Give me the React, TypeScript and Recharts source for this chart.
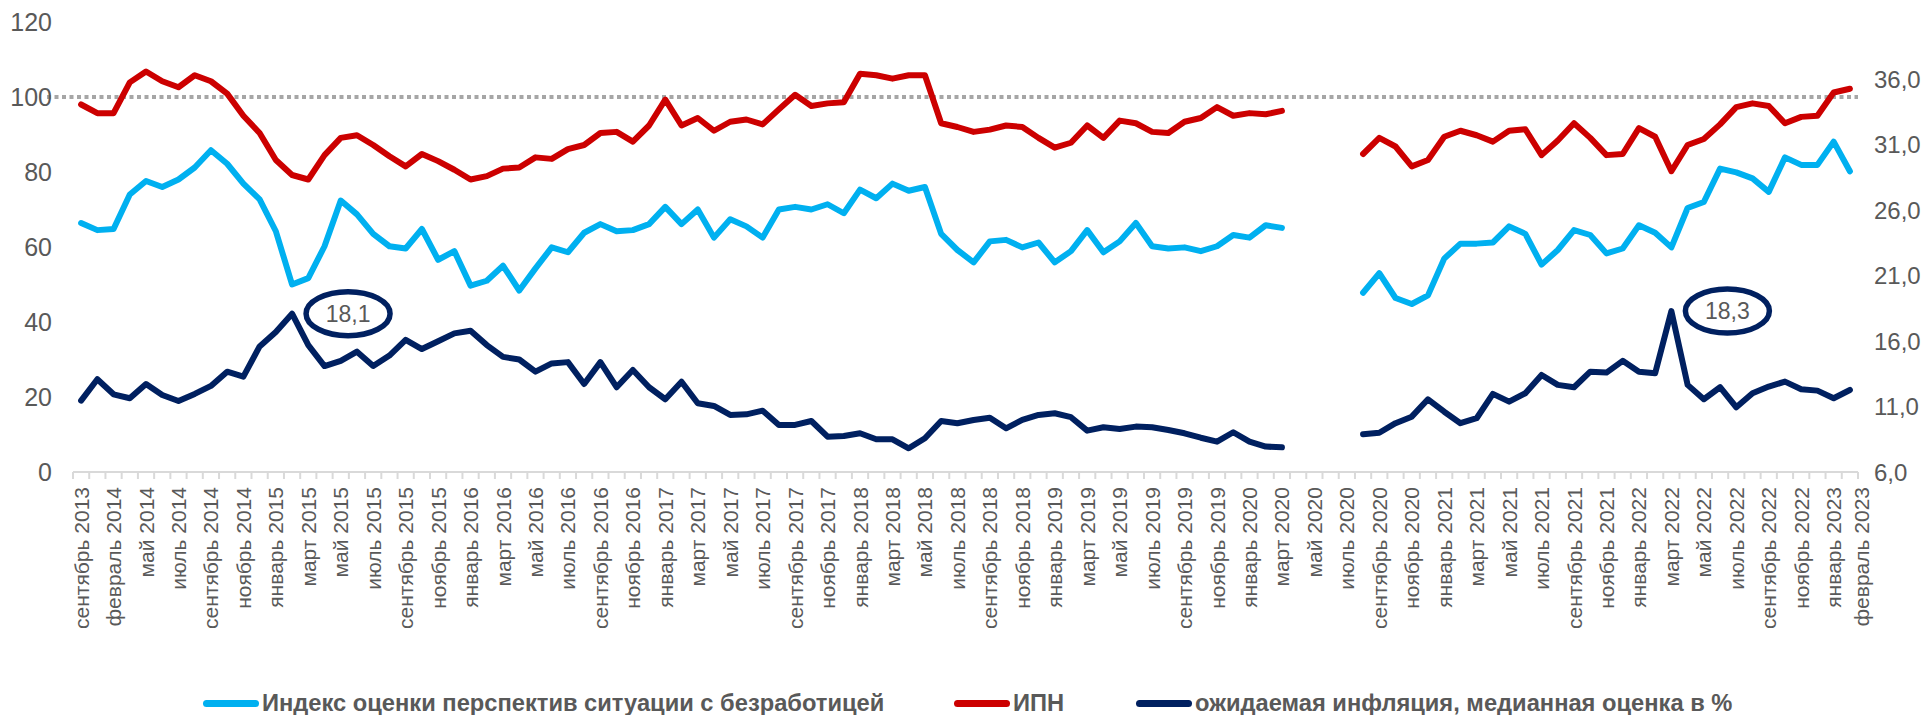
import React from 'react'
import {
  ComposedChart,
  Line,
  XAxis,
  YAxis,
  ReferenceLine,
  ReferenceDot,
  Legend,
} from 'recharts'

const FONT = "'Liberation Sans Narrow', 'Arial Narrow', 'Liberation Sans', sans-serif"

const MONTHS = ['январь', 'февраль', 'март', 'апрель', 'май', 'июнь', 'июль', 'август', 'сентябрь', 'октябрь', 'ноябрь', 'декабрь']

// early survey waves were not monthly
const firstWaves = ['сентябрь 2013', 'декабрь 2013', 'февраль 2014', 'апрель 2014']

// monthly from May 2014 to February 2023
const monthly: string[] = []
for (let y = 2014, m = 4; y < 2023 || (y === 2023 && m <= 1); m++) {
  if (m === 12) { m = 0; y++ }
  monthly.push(`${MONTHS[m]} ${y}`)
}
const categories = [...firstWaves, ...monthly]

// Индекс оценки перспектив ситуации с безработицей (left axis)
const unemployment = [
  66.4, 64.5, 64.8, 74, 77.6, 76, 78, 81.2, 85.8, 82.2,
  76.9, 72.7, 64.2, 50, 51.7, 60.2, 72.4, 68.7, 63.5, 60.2,
  59.6, 64.8, 56.6, 58.9, 49.7, 51, 55, 48.4, 54.3, 59.9,
  58.6, 63.8, 66.1, 64.2, 64.5, 66.1, 70.7, 66.1, 70, 62.5,
  67.4, 65.5, 62.5, 70, 70.7, 70, 71.4, 69, 75.3, 73,
  76.9, 75, 76, 63.5, 59.2, 55.9, 61.5, 61.9, 59.9, 61.2,
  55.9, 58.9, 64.5, 58.6, 61.5, 66.4, 60.2, 59.6, 59.9, 58.9,
  60.2, 63.2, 62.5, 65.8, 65.1, null, null, null, null, 47.8,
  53, 46.4, 44.8, 47.1, 56.9, 60.9, 60.9, 61.2, 65.5, 63.5,
  55.3, 59.2, 64.5, 63.2, 58.3, 59.6, 65.8, 63.8, 59.9, 70.4,
  72, 80.9, 79.9, 78.3, 74.7, 83.9, 81.9, 81.9, 88.1, 80.2,
]

// ИПН (left axis)
const ipn = [
  98, 95.7, 95.7, 103.9, 106.8, 104.2, 102.6, 105.8, 104.2, 100.9,
  95, 90.4, 83.2, 79.2, 78, 84.5, 89.1, 89.8, 87.2, 84.2,
  81.5, 84.8, 82.9, 80.6, 78, 78.9, 80.9, 81.2, 83.9, 83.5,
  86.1, 87.2, 90.4, 90.7, 88.1, 92.4, 99.3, 92.4, 94.4, 91,
  93.4, 94, 92.7, 96.7, 100.6, 97.6, 98.3, 98.6, 106.2, 105.8,
  104.9, 105.8, 105.8, 93, 92, 90.7, 91.3, 92.4, 92, 89.1,
  86.5, 87.8, 92.4, 89.1, 93.7, 93, 90.7, 90.4, 93.4, 94.4,
  97.3, 95, 95.7, 95.4, 96.3, null, null, null, null, 84.8,
  89.1, 86.8, 81.5, 83.2, 89.4, 91, 89.8, 88.1, 91, 91.4,
  84.5, 88.4, 93, 89.1, 84.5, 84.8, 91.7, 89.4, 80.2, 87.2,
  88.8, 92.7, 97.3, 98.3, 97.6, 93, 94.7, 95, 101.2, 102.2,
]

// ожидаемая инфляция, медианная оценка в % (right axis)
const inflation = [
  11.46, 13.09, 11.94, 11.64, 12.73, 11.89, 11.43, 11.97, 12.58, 13.67,
  13.29, 15.6, 16.7, 18.1, 15.7, 14.1, 14.5, 15.2, 14.1, 14.9,
  16.1, 15.4, 16.0, 16.6, 16.8, 15.7, 14.8, 14.6, 13.67, 14.3,
  14.4, 12.73, 14.4, 12.48, 13.8, 12.48, 11.56, 12.9, 11.26, 11.05,
  10.36, 10.41, 10.69, 9.6, 9.6, 9.9, 8.7, 8.75, 8.96, 8.5,
  8.5, 7.81, 8.58, 9.9, 9.73, 9.98, 10.15, 9.34, 9.98, 10.36,
  10.49, 10.19, 9.16, 9.42, 9.29, 9.47, 9.42, 9.21, 8.96, 8.62,
  8.32, 9.04, 8.32, 7.94, 7.89, null, null, null, null, 8.88,
  9.0, 9.73, 10.23, 11.56, 10.61, 9.73, 10.11, 11.97, 11.38, 12.02,
  13.42, 12.66, 12.48, 13.67, 13.6, 14.5, 13.67, 13.55, 18.3, 12.66,
  11.56, 12.48, 10.95, 12.02, 12.53, 12.91, 12.33, 12.22, 11.64, 12.27,
]

const leftTicks = [0, 20, 40, 60, 80, 100, 120]
const rightTicks = [6, 11, 16, 21, 26, 31, 36]

// peaks marked with an ellipse
const callouts = [
  { index: 13, value: 18.1 },
  { index: 98, value: 18.3 },
]

const series = [
  { key: 'unemployment', name: 'Индекс оценки перспектив ситуации с безработицей', color: '#00B0F0', axis: 'left' },
  { key: 'ipn', name: 'ИПН', color: '#CC0000', axis: 'left' },
  { key: 'inflation', name: 'ожидаемая инфляция, медианная оценка в %', color: '#002060', axis: 'right' },
]

const data = categories.map((c, i) => ({
  month: c,
  unemployment: unemployment[i],
  ipn: ipn[i],
  inflation: inflation[i],
}))

const W = 1930
const H = 715
const LEFT_W = 73
const RIGHT_W = 72
const HALF_BAND = (W - LEFT_W - RIGHT_W) / categories.length / 2
const GREY = '#595959'

const fmt = (v: number) => v.toFixed(1).replace('.', ',')

function MonthTick(props: any) {
  const { x, y, index, payload } = props
  const last = index === categories.length - 1
  const showLabel = index % 2 === 0 || last
  const lx = last ? x + 12 : x
  const ly = y + 15
  return (
    <g>
      <line x1={x - HALF_BAND} x2={x - HALF_BAND} y1={y} y2={y + 7} stroke="#D9D9D9" strokeWidth={2} />
      {last && <line x1={x + HALF_BAND} x2={x + HALF_BAND} y1={y} y2={y + 7} stroke="#D9D9D9" strokeWidth={2} />}
      {showLabel && (
        <text
          x={lx}
          y={ly}
          transform={`rotate(-90, ${lx}, ${ly})`}
          textAnchor="end"
          dominantBaseline="central"
          fill={GREY}
          fontSize={21}
          fontFamily={FONT}
        >
          {payload.value}
        </text>
      )}
    </g>
  )
}

function Callout(label: string) {
  return (props: any) => {
    const { cx, cy } = props
    const ex = cx + 56
    return (
      <g>
        <ellipse cx={ex} cy={cy} rx={42} ry={22} fill="none" stroke="#002060" strokeWidth={5.5} />
        <text x={ex} y={cy} textAnchor="middle" dominantBaseline="central" fill={GREY} fontSize={23} fontFamily={FONT}>
          {label}
        </text>
      </g>
    )
  }
}

function DottedHundred(props: any) {
  const { x1, x2, y1 } = props
  return <line x1={x1 - 26} x2={x2} y1={y1} y2={y1} stroke="#A6A6A6" strokeWidth={4} strokeDasharray="4 3.5" />
}

const legendX = [203, 954, 1136]

function ChartLegend() {
  return (
    <div style={{ position: 'relative', width: W, height: 40 }}>
      {series.map((s, i) => (
        <div
          key={s.key}
          style={{ position: 'absolute', left: legendX[i], top: 14, display: 'flex', alignItems: 'center', whiteSpace: 'nowrap' }}
        >
          <span style={{ display: 'inline-block', width: 56, height: 7, borderRadius: 4, background: s.color, marginRight: 3 }} />
          <span style={{ color: GREY, fontFamily: FONT, fontWeight: 700, fontSize: 23.7, lineHeight: '28px' }}>{s.name}</span>
        </div>
      ))}
    </div>
  )
}

export default function App() {
  return (
    <div style={{ position: 'absolute', left: 0, top: 0, width: W, height: H, background: '#fff', fontFamily: FONT }}>
      <ComposedChart width={W} height={H} data={data} margin={{ top: 22, right: 0, bottom: 0, left: 0 }}>
        <XAxis
          dataKey="month"
          scale="band"
          interval={0}
          height={203}
          tickSize={0}
          tickMargin={0}
          tickLine={false}
          axisLine={{ stroke: '#D9D9D9', strokeWidth: 2 }}
          tick={<MonthTick />}
        />
        <YAxis
          yAxisId="left"
          width={LEFT_W}
          domain={[0, 120]}
          ticks={leftTicks}
          axisLine={false}
          tickLine={false}
          tickMargin={15}
          tick={{ fill: GREY, fontSize: 25, fontFamily: FONT }}
        />
        <YAxis
          yAxisId="right"
          orientation="right"
          width={RIGHT_W}
          domain={[6, 40.4]}
          ticks={rightTicks}
          allowDataOverflow
          axisLine={false}
          tickLine={false}
          tickMargin={10}
          tickFormatter={fmt}
          tick={{ fill: GREY, fontSize: 24, fontFamily: FONT }}
        />
        <ReferenceLine yAxisId="left" y={100} shape={<DottedHundred />} />
        {series.map((s) => (
          <Line
            key={s.key}
            yAxisId={s.axis}
            dataKey={s.key}
            name={s.name}
            type="linear"
            stroke={s.color}
            strokeWidth={6}
            strokeLinecap="round"
            strokeLinejoin="round"
            dot={false}
            activeDot={false}
            connectNulls={false}
            isAnimationActive={false}
          />
        ))}
        {callouts.map((c) => (
          <ReferenceDot
            key={c.index}
            yAxisId="right"
            x={categories[c.index]}
            y={c.value}
            shape={Callout(fmt(c.value))}
          />
        ))}
        <Legend verticalAlign="bottom" content={<ChartLegend />} wrapperStyle={{ height: 40 }} />
      </ComposedChart>
    </div>
  )
}
